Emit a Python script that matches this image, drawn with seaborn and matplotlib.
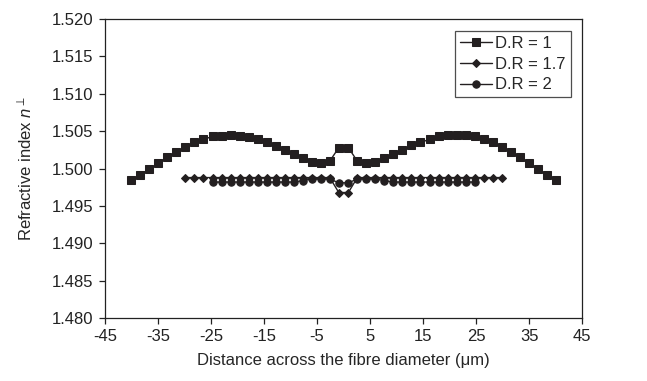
import numpy as np
import seaborn as sns
import matplotlib.pyplot as plt

# positions across the fibre (um), 48 sample points from -40 to 40
distance = [-40.0, -38.3, -36.6, -34.9, -33.2, -31.5, -29.8, -28.1, -26.4, -24.7,
            -23.0, -21.3, -19.6, -17.9, -16.2, -14.5, -12.8, -11.1, -9.4, -7.7,
            -6.0, -4.3, -2.6, -0.9, 0.9, 2.6, 4.3, 6.0, 7.7, 9.4,
            11.1, 12.8, 14.5, 16.2, 17.9, 19.6, 21.3, 23.0, 24.7, 26.4,
            28.1, 29.8, 31.5, 33.2, 34.9, 36.6, 38.3, 40.0]

n_dr1 = [1.4985, 1.4992, 1.4999, 1.5007, 1.5015, 1.5022, 1.5029, 1.5035, 1.5039, 1.5043,
         1.5044, 1.5045, 1.5044, 1.5042, 1.5039, 1.5035, 1.5030, 1.5025, 1.5019, 1.5014,
         1.5009, 1.5008, 1.5010, 1.5028, 1.5028, 1.5010, 1.5008, 1.5009, 1.5014, 1.5020,
         1.5025, 1.5031, 1.5035, 1.5039, 1.5043, 1.5045, 1.5045, 1.5045, 1.5043, 1.5040,
         1.5035, 1.5029, 1.5022, 1.5015, 1.5007, 1.4999, 1.4992, 1.4985]

# D.R = 1.7 covers points 6..41
n_dr17 = [1.4988, 1.4988, 1.4988, 1.4988, 1.4988, 1.4988, 1.4988, 1.4988, 1.4988, 1.4988,
          1.4988, 1.4988, 1.4988, 1.4988, 1.4988, 1.4988, 1.4988, 1.4968, 1.4968, 1.4988,
          1.4988, 1.4988, 1.4988, 1.4988, 1.4988, 1.4988, 1.4988, 1.4988, 1.4988, 1.4988,
          1.4988, 1.4988, 1.4988, 1.4988, 1.4988, 1.4988]

# D.R = 2 covers points 9..38
n_dr2 = [1.4982, 1.4982, 1.4982, 1.4982, 1.4982, 1.4982, 1.4982, 1.4982, 1.4982, 1.4982,
         1.4984, 1.4986, 1.4986, 1.4986, 1.4981, 1.4981, 1.4986, 1.4986, 1.4986, 1.4984,
         1.4982, 1.4982, 1.4982, 1.4982, 1.4982, 1.4982, 1.4982, 1.4982, 1.4982, 1.4982]

x_ticks = [-45, -35, -25, -15, -5, 5, 15, 25, 35, 45]
y_ticks = [1.480, 1.485, 1.490, 1.495, 1.500, 1.505, 1.510, 1.515, 1.520]

sns.set_style("ticks")
plt.rcParams["font.family"] = ["Liberation Sans", "DejaVu Sans"]
plt.rcParams["mathtext.fontset"] = "custom"
plt.rcParams["mathtext.rm"] = "Liberation Sans"
plt.rcParams["mathtext.it"] = "Liberation Sans:italic"
plt.rcParams["axes.unicode_minus"] = False

ink = "#231f20"

fig = plt.figure(figsize=(6.47, 3.81), dpi=100)
ax = fig.add_axes([0.162, 0.165, 0.738, 0.785])

sns.lineplot(x=distance, y=n_dr1, ax=ax, color=ink, lw=1.0, marker="s",
             markersize=5.5, markeredgecolor=ink, label="D.R = 1")
sns.lineplot(x=distance[6:42], y=n_dr17, ax=ax, color=ink, lw=1.0, marker="D",
             markersize=4.2, markeredgecolor=ink, label="D.R = 1.7")
sns.lineplot(x=distance[9:39], y=n_dr2, ax=ax, color=ink, lw=1.0, marker="o",
             markersize=5.3, markeredgecolor=ink, label="D.R = 2")

ax.set_xlim(-45, 45)
ax.set_ylim(1.480, 1.520)
ax.set_xticks(x_ticks)
ax.set_yticks(y_ticks)
ax.set_yticklabels([f"{v:.3f}" for v in y_ticks])
ax.tick_params(direction="out", length=4.5, width=0.9, labelsize=12, colors="#222222")
for s in ax.spines.values():
    s.set_linewidth(0.9)
    s.set_color("#222222")

ax.set_xlabel("Distance across the fibre diameter (μm)", fontsize=12, labelpad=6)
ax.set_ylabel(r"Refractive index $n^{\perp}$", fontsize=12, labelpad=12)

leg = ax.legend(loc="upper right", fontsize=12, frameon=True, fancybox=False,
                edgecolor="#222222", handlelength=1.9, borderaxespad=0.7,
                labelspacing=0.35, handletextpad=0.2, borderpad=0.3)
leg.get_frame().set_linewidth(0.9)

fig.savefig("out.png", dpi=100)
